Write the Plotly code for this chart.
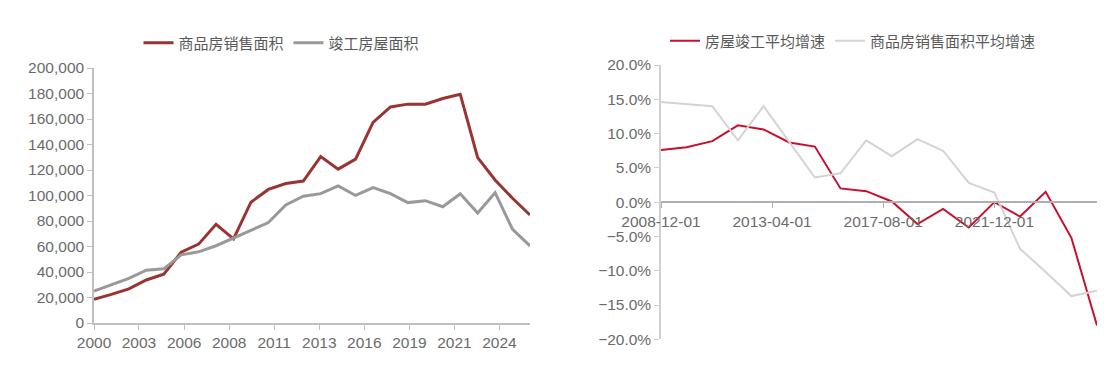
import plotly.graph_objects as go

# ---------- Left chart data (万平方米) ----------
years_left = [f"{y}-12-01" for y in range(2000, 2026)]
sales_area = [18637, 22412, 26808, 33718, 38232, 55487, 61857, 77355, 65970, 94755,
              104765, 109367, 111304, 130551, 120649, 128495, 157349, 169408, 171654, 171558,
              176086, 179433, 129700, 112200, 97800, 84700]
completed_area = [25105, 29867, 34976, 41464, 42465, 53417, 55831, 60607, 66545, 72677,
                  78744, 92620, 99425, 101435, 107459, 100039, 106128, 101486, 94421, 95942,
                  91218, 101412, 86222, 102200, 73400, 60500]
left_names = ["商品房销售面积", "竣工房屋面积"]

# ---------- Right chart data (%) ----------
dates_right = [f"{y}-12-01" for y in range(2008, 2026)]
completion_growth = [7.6, 8.0, 8.9, 11.2, 10.6, 8.7, 8.1, 2.0, 1.6, 0.1,
                     -3.2, -1.0, -3.7, 0.0, -2.1, 1.5, -5.2, -18.0]
sales_growth = [14.6, 14.3, 14.0, 9.0, 14.0, 8.8, 3.6, 4.2, 9.0, 6.7,
                9.2, 7.5, 2.8, 1.4, -6.8, -10.2, -13.7, -12.9]
right_names = ["房屋竣工平均增速", "商品房销售面积平均增速"]

FONT = "Liberation Sans, Arial, Noto Sans CJK SC, sans-serif"
TXT = "#6b6b6b"
W, H = 1115, 371

fig = go.Figure()
fig.add_trace(go.Scatter(x=years_left, y=sales_area, name=left_names[0], mode="lines",
                         line=dict(color="#9a3432", width=3), xaxis="x", yaxis="y", legend="legend"))
fig.add_trace(go.Scatter(x=years_left, y=completed_area, name=left_names[1], mode="lines",
                         line=dict(color="#999999", width=3), xaxis="x", yaxis="y", legend="legend"))
fig.add_trace(go.Scatter(x=dates_right, y=completion_growth, name=right_names[0], mode="lines",
                         line=dict(color="#c8102e", width=2), xaxis="x2", yaxis="y2", legend="legend2"))
fig.add_trace(go.Scatter(x=dates_right, y=sales_growth, name=right_names[1], mode="lines",
                         line=dict(color="#d4d4d4", width=2), xaxis="x2", yaxis="y2", legend="legend2"))

# plot areas in pixels
L = dict(x0=94, x1=530, y0=68, y1=323)
R = dict(x0=661, x1=1097, y0=65, y1=339.3)

def xd(a):
    return [a["x0"] / W, a["x1"] / W]

def yd(a):
    return [1 - a["y1"] / H, 1 - a["y0"] / H]

tickfont = dict(family=FONT, size=15.5, color=TXT)

fig.update_layout(
    width=W, height=H,
    margin=dict(l=0, r=0, t=0, b=0, autoexpand=False),
    paper_bgcolor="white", plot_bgcolor="white",
    font=dict(family=FONT, color=TXT),
    xaxis=dict(domain=xd(L), anchor="y", type="date", automargin=False,
               range=[years_left[0], years_left[-1]],
               tick0="2000-12-01", dtick="M31", tickformat="%Y",
               showgrid=False, zeroline=False, showline=True, linecolor="#bfbfbf", linewidth=1.5,
               ticks="outside", ticklen=5, tickcolor="#bfbfbf", tickfont=tickfont),
    yaxis=dict(domain=yd(L), anchor="x", range=[0, 200000], dtick=20000, tickformat=",",
               automargin=False,
               showgrid=False, zeroline=False, showline=True, linecolor="#bfbfbf", linewidth=1.5,
               ticks="outside", ticklen=5, tickcolor="#bfbfbf", tickfont=tickfont),
    xaxis2=dict(domain=xd(R), anchor="free", position=(yd(R)[0] + yd(R)[1]) / 2, type="date",
                automargin=False,
                range=[dates_right[0], dates_right[-1]],
                tick0="2008-12-01", dtick="M52", tickformat="%Y-%m-%d",
                showgrid=False, zeroline=False, showline=True, linecolor="#b0b0b0", linewidth=1.5,
                ticks="outside", ticklen=5, tickcolor="#b0b0b0", tickfont=tickfont),
    yaxis2=dict(domain=yd(R), anchor="x2", range=[-20, 20], dtick=5, tickformat=".1f", ticksuffix="%",
                automargin=False,
                showgrid=False, zeroline=False, showline=True, linecolor="#d0d0d0", linewidth=1.5,
                ticks="outside", ticklen=5, tickcolor="#d0d0d0", tickfont=tickfont),
    legend=dict(orientation="h", x=(146 + 417) / 2 / W, xanchor="center", y=1 - 43 / H, yanchor="middle",
                font=dict(family=FONT, size=15, color="#595959"), itemwidth=30,
                bgcolor="rgba(0,0,0,0)"),
    legend2=dict(orientation="h", x=(671 + 1035) / 2 / W, xanchor="center", y=1 - 41 / H, yanchor="middle",
                 font=dict(family=FONT, size=15, color="#595959"), itemwidth=30,
                 bgcolor="rgba(0,0,0,0)"),
)

fig.write_html("out.html", config={"displayModeBar": False},
               post_script="document.body.style.margin='0';document.body.style.overflow='hidden';")
